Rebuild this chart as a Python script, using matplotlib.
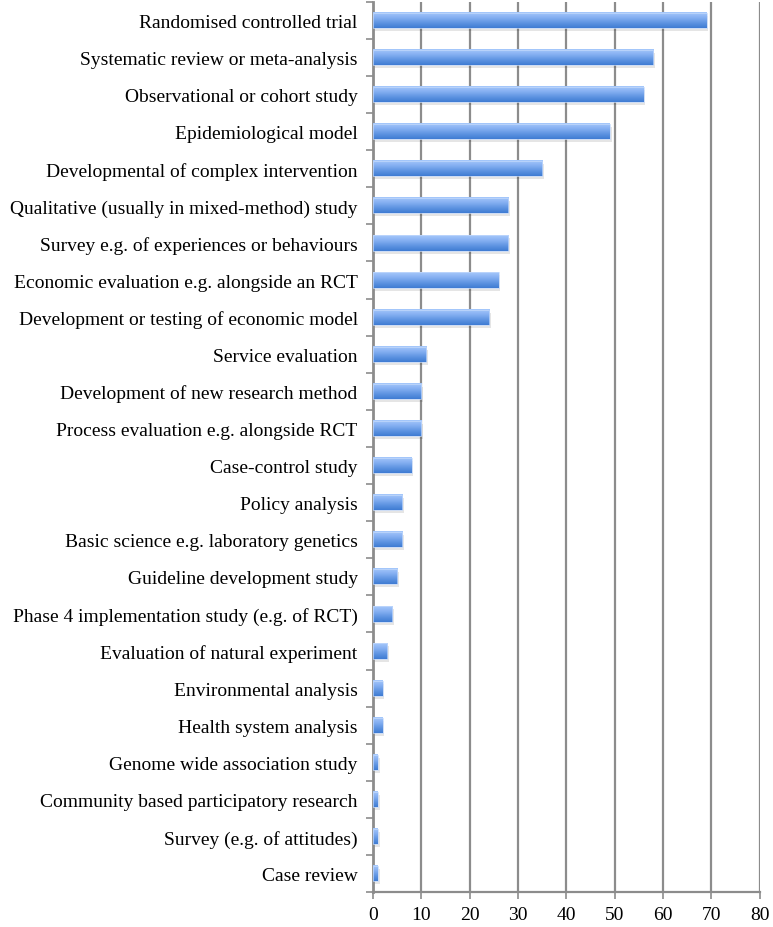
import matplotlib
import numpy as np

matplotlib.use("Agg")
import matplotlib.pyplot as plt
from matplotlib.colors import LinearSegmentedColormap
from matplotlib.patches import Rectangle

# --- Data (top to bottom as shown) ---
categories = [
    "Randomised controlled trial",
    "Systematic review or meta-analysis",
    "Observational or cohort study",
    "Epidemiological model",
    "Developmental of complex intervention",
    "Qualitative (usually in mixed-method) study",
    "Survey e.g. of experiences or behaviours",
    "Economic evaluation e.g. alongside an RCT",
    "Development or testing of economic model",
    "Service evaluation",
    "Development of new research method",
    "Process evaluation e.g. alongside RCT",
    "Case-control study",
    "Policy analysis",
    "Basic science e.g. laboratory genetics",
    "Guideline development study",
    "Phase 4 implementation study (e.g. of RCT)",
    "Evaluation of natural experiment",
    "Environmental analysis",
    "Health system analysis",
    "Genome wide association study",
    "Community based participatory research",
    "Survey (e.g. of attitudes)",
    "Case review",
]
counts = [69, 58, 56, 49, 35, 28, 28, 26, 24, 11, 10, 10, 8, 6, 6, 5, 4, 3, 2, 2, 1, 1, 1, 1]
x_ticks = [0, 10, 20, 30, 40, 50, 60, 70, 80]

# --- Styling ---
GRID_COLOR = "#8c8c8c"
BAR_CMAP = LinearSegmentedColormap.from_list(
    "excel_blue", ["#a6c8fb", "#86b0f2", "#5f95e2", "#3f7cd3"]
)
FONT = ["Liberation Serif", "DejaVu Serif"]
BAR_HEIGHT = 0.41


def main():
    plt.rcParams["font.family"] = FONT
    figure = plt.figure(figsize=(7.73, 9.28), dpi=100)
    axis = figure.add_axes([0.4825, 0.0375, 0.5005, 0.9595])

    y_pos = np.arange(len(categories))

    # gridlines behind bars
    for xv in x_ticks[1:]:
        axis.axvline(xv, color=GRID_COLOR, linewidth=1.6, zorder=1)

    gradient = np.linspace(0, 1, 64).reshape(-1, 1)
    bars = axis.barh(y_pos, counts, height=BAR_HEIGHT, color="none", zorder=3)
    for bar in bars:
        x0, y0 = bar.get_x(), bar.get_y()
        w, h = bar.get_width(), bar.get_height()
        # soft shadow
        shadow = Rectangle(
            (x0, y0 + 0.08), w + 0.35, h, facecolor="#000000", alpha=0.10,
            edgecolor="none", zorder=2,
        )
        axis.add_patch(shadow)
        axis.imshow(
            gradient, cmap=BAR_CMAP, aspect="auto", extent=(x0, x0 + w, y0 + h, y0),
            zorder=3, interpolation="bilinear",
        )
        edge = Rectangle(
            (x0, y0), w, h, facecolor="none", edgecolor="#c4dafc",
            linewidth=0.5, zorder=4,
        )
        axis.add_patch(edge)

    axis.set_xlim(0, 80)
    axis.set_ylim(len(categories) - 0.5, -0.5)

    axis.set_yticks(y_pos)
    axis.set_yticklabels(categories, fontsize=14)
    axis.tick_params(axis="y", which="major", length=0, pad=11)
    axis.set_yticks(np.arange(-0.5, len(categories), 1), minor=True)
    axis.tick_params(axis="y", which="minor", length=5, width=1.2, color=GRID_COLOR)

    axis.set_xticks(x_ticks)
    axis.tick_params(axis="x", length=5, width=1.2, color=GRID_COLOR, labelsize=14, pad=5)

    for side in ["top", "right"]:
        axis.spines[side].set_visible(False)
    axis.spines["left"].set_color(GRID_COLOR)
    axis.spines["left"].set_linewidth(2)
    axis.spines["bottom"].set_color(GRID_COLOR)
    axis.spines["bottom"].set_linewidth(1.6)

    figure.savefig("out.png", dpi=100)
    plt.close(figure)


if __name__ == "__main__":
    main()
